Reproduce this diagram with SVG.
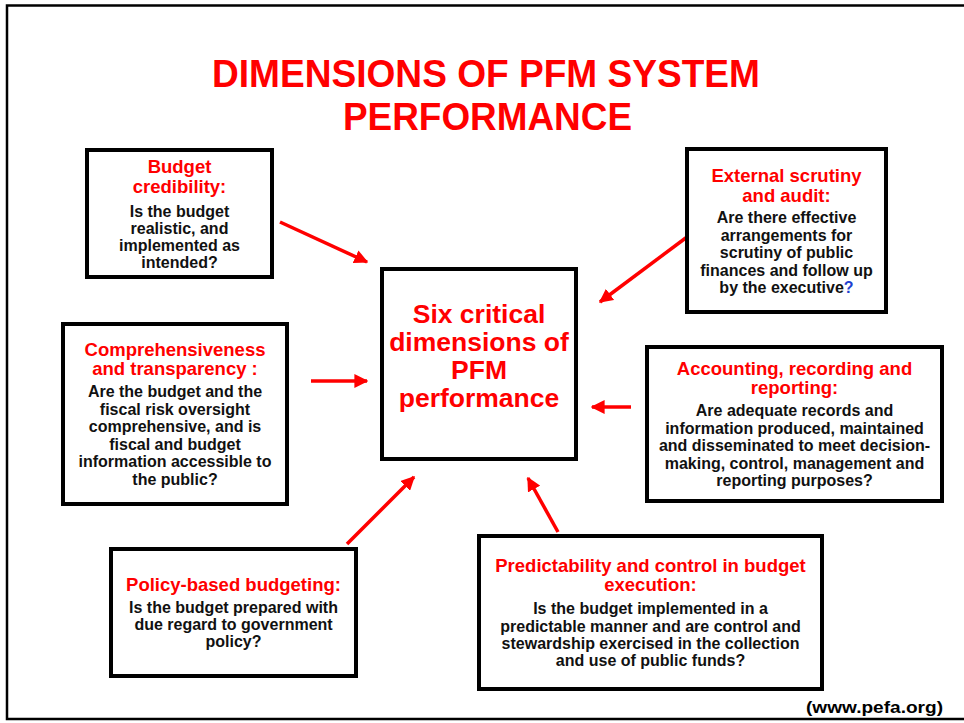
<svg xmlns="http://www.w3.org/2000/svg" width="964" height="723" viewBox="0 0 964 723">
<defs>
<style>
text{font-family:"Liberation Sans",Arial,sans-serif;font-weight:bold;text-anchor:middle}
.t{fill:#ff0000;font-size:38px}
.h{fill:#ff0000;font-size:18.5px}
.b{fill:#111111;font-size:16px}
.c{fill:#ff0000;font-size:26.5px}
.q{fill:#1f3fd0}
.box{fill:#ffffff;stroke:#000000;stroke-width:4}
.arr{stroke:#ff0000;stroke-width:3.5;fill:none;marker-end:url(#ah)}
</style>
<marker id="ah" viewBox="0 0 10 10" refX="9" refY="5" markerWidth="4" markerHeight="4" markerUnits="strokeWidth" orient="auto">
<path d="M0,0 L10,5 L0,10 z" fill="#ff0000"/>
</marker>
</defs>
<rect width="964" height="723" fill="#ffffff"/>
<path d="M964,5.5 H7 V719 H964" fill="none" stroke="#000000" stroke-width="2.5"/>
<g id="title">
<text class="t" x="486" y="87" textLength="548" lengthAdjust="spacingAndGlyphs">DIMENSIONS OF PFM SYSTEM</text>
<text class="t" x="487.5" y="129.5" textLength="289" lengthAdjust="spacingAndGlyphs">PERFORMANCE</text>
</g>
<g id="connectors">
<line class="arr" x1="280" y1="222" x2="367" y2="262"/>
<line class="arr" x1="687" y1="237" x2="600" y2="302"/>
<line class="arr" x1="311" y1="381" x2="367" y2="381"/>
<line class="arr" x1="631" y1="407" x2="592" y2="407"/>
<line class="arr" x1="347" y1="544" x2="414" y2="477"/>
<line class="arr" x1="558" y1="532" x2="528" y2="478"/>
</g>
<g id="center">
<rect class="box" x="382" y="269" width="194" height="190"/>
<text class="c" x="479" y="323">Six critical</text>
<text class="c" x="479" y="351">dimensions of</text>
<text class="c" x="479" y="379">PFM</text>
<text class="c" x="479" y="407">performance</text>
</g>
<g id="budget-credibility">
<rect class="box" x="87" y="150" width="185" height="127"/>
<text class="h" x="179.5" y="173">Budget</text>
<text class="h" x="179.5" y="193">credibility:</text>
<text class="b" x="179.5" y="217">Is the budget</text>
<text class="b" x="179.5" y="234">realistic, and</text>
<text class="b" x="179.5" y="251">implemented as</text>
<text class="b" x="179.5" y="268">intended?</text>
</g>
<g id="external-scrutiny">
<rect class="box" x="687" y="149" width="199" height="163"/>
<text class="h" x="786.5" y="182">External scrutiny</text>
<text class="h" x="786.5" y="202">and audit:</text>
<text class="b" x="786.5" y="223">Are there effective</text>
<text class="b" x="786.5" y="240.5">arrangements for</text>
<text class="b" x="786.5" y="258">scrutiny of public</text>
<text class="b" x="786.5" y="275.5">finances and follow up</text>
<text class="b" x="786.5" y="293">by the executive<tspan class="q">?</tspan></text>
</g>
<g id="comprehensiveness">
<rect class="box" x="63" y="324" width="224" height="180"/>
<text class="h" x="175" y="356">Comprehensiveness</text>
<text class="h" x="175" y="375">and transparency :</text>
<text class="b" x="175" y="397">Are the budget and the</text>
<text class="b" x="175" y="414.5">fiscal risk oversight</text>
<text class="b" x="175" y="432">comprehensive, and is</text>
<text class="b" x="175" y="449.5">fiscal and budget</text>
<text class="b" x="175" y="467">information accessible to</text>
<text class="b" x="175" y="484.5">the public?</text>
</g>
<g id="accounting">
<rect class="box" x="647" y="347" width="295" height="154"/>
<text class="h" x="794.5" y="375">Accounting, recording and</text>
<text class="h" x="794.5" y="394">reporting:</text>
<text class="b" x="794.5" y="416">Are adequate records and</text>
<text class="b" x="794.5" y="433.5">information produced, maintained</text>
<text class="b" x="794.5" y="451">and disseminated to meet decision-</text>
<text class="b" x="794.5" y="468.5">making, control, management and</text>
<text class="b" x="794.5" y="486">reporting purposes?</text>
</g>
<g id="policy-based">
<rect class="box" x="111" y="549" width="245" height="127"/>
<text class="h" x="233.5" y="591">Policy-based budgeting:</text>
<text class="b" x="233.5" y="613">Is the budget prepared with</text>
<text class="b" x="233.5" y="630">due regard to government</text>
<text class="b" x="233.5" y="647">policy?</text>
</g>
<g id="predictability">
<rect class="box" x="479" y="536" width="343" height="153"/>
<text class="h" x="650.5" y="572">Predictability and control in budget</text>
<text class="h" x="650.5" y="591">execution:</text>
<text class="b" x="650.5" y="614">Is the budget implemented in a</text>
<text class="b" x="650.5" y="631.5">predictable manner and are control and</text>
<text class="b" x="650.5" y="648.5">stewardship exercised in the collection</text>
<text class="b" x="650.5" y="665.5">and use of public funds?</text>
</g>
<g id="footer">
<text x="874.5" y="713" style="font-size:17px;fill:#000000" textLength="137" lengthAdjust="spacingAndGlyphs">(www.pefa.org)</text>
</g>
</svg>
